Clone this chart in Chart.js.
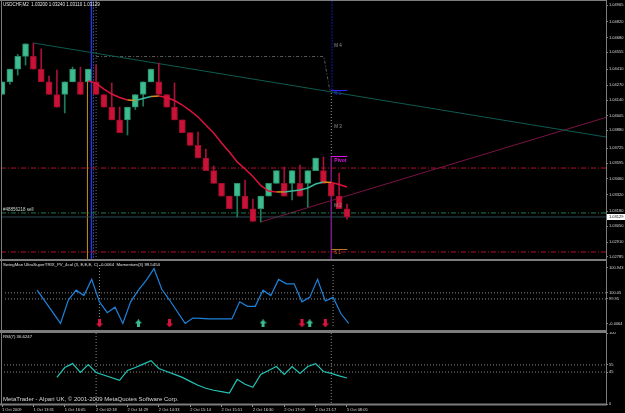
<!DOCTYPE html>
<html>
<head>
<meta charset="utf-8">
<script src="https://cdn.jsdelivr.net/npm/chart.js@4.4.1/dist/chart.umd.min.js"></script>
<style>
  html, body { margin: 0; padding: 0; background: #000; overflow: hidden; width: 625px; height: 413px; }
  canvas { position: absolute; left: 0; }
</style>
</head>
<body>
<canvas id="mainChart" width="625" height="260" style="top:0px"></canvas>
<canvas id="momChart" width="625" height="72" style="top:260px"></canvas>
<canvas id="rsiChart" width="625" height="81" style="top:332px"></canvas>
<script>
// USDCHF, M2 bars (index 0 = first visible bar)
const opens  = [1.04190,1.04300,1.04410,1.04520,1.04520,1.04410,1.04300,1.04190,1.04190,1.04300,
                1.04300,1.04300,1.04300,1.04190,1.04080,1.03970,1.03970,1.04080,1.04190,1.04300,
                1.04300,1.04190,1.04080,1.03970,1.03860,1.03750,1.03640,1.03530,1.03420,1.03310,
                1.03310,1.03310,1.03200,1.03200,1.03310,1.03420,1.03420,1.03420,1.03420,1.03420,
                1.03530,1.03530,1.03420,1.03310,1.03200];
const closes = [1.04300,1.04410,1.04520,1.04630,1.04410,1.04300,1.04190,1.04080,1.04300,1.04410,
                1.04190,1.04410,1.04190,1.04080,1.03970,1.03860,1.04080,1.04190,1.04300,1.04410,
                1.04190,1.04080,1.03970,1.03860,1.03750,1.03640,1.03530,1.03420,1.03310,1.03200,
                1.03420,1.03200,1.03090,1.03310,1.03420,1.03530,1.03310,1.03530,1.03310,1.03530,
                1.03640,1.03420,1.03310,1.03200,1.03129];
const highs  = [1.04300,1.04410,1.04537,1.04630,1.04636,1.04584,1.04350,1.04402,1.04300,1.04428,
                1.04428,1.04410,1.04445,1.04190,1.04290,1.04082,1.04080,1.04190,1.04300,1.04410,
                1.04463,1.04190,1.04290,1.03970,1.03860,1.03865,1.03718,1.03571,1.03420,1.03310,
                1.03420,1.03449,1.03285,1.03310,1.03420,1.03530,1.03562,1.03530,1.03579,1.03530,
                1.03640,1.03649,1.03420,1.03510,1.03240];
const lows   = [1.04190,1.04280,1.04358,1.04445,1.04410,1.04300,1.04190,1.04080,1.04030,1.04300,
                1.04190,1.04300,1.04190,1.04080,1.03970,1.03860,1.03839,1.04060,1.04090,1.04300,
                1.04190,1.04080,1.03970,1.03860,1.03750,1.03640,1.03530,1.03420,1.03310,1.03200,
                1.03129,1.03200,1.03090,1.03086,1.03310,1.03420,1.03310,1.03276,1.03310,1.03216,
                1.03530,1.03420,1.03310,1.03200,1.03110];
// colour-coded moving average
const maLine = [null,null,null,null,null,null,null,null,null,null,
                null,1.04307,1.04289,1.04237,1.04194,1.04164,1.04142,1.04138,1.04155,1.04173,
                1.04177,1.04164,1.04138,1.04099,1.04051,1.03995,1.03926,1.03857,1.03770,1.03692,
                1.03606,1.03545,1.03480,1.03402,1.03354,1.03346,1.03346,1.03354,1.03363,1.03380,
                1.03415,1.03432,1.03428,1.03410,1.03389];
// Momentum(3)
const momentum = [null,null,null,null,100.095,null,null,99.546,99.932,100.095,
                  100.006,100.273,99.902,99.724,99.813,99.546,99.902,100.095,100.258,100.451,
                  100.110,99.932,99.739,99.546,99.635,99.628,99.620,99.620,99.620,99.620,
                  99.902,99.828,99.828,100.095,100.006,100.273,100.199,100.199,99.902,99.976,
                  100.273,99.917,99.976,99.709,99.546];
// RSI(7)
const rsi = [null,null,null,null,null,null,null,37.5,51.4,56.9,
             44.4,55.6,44.4,null,null,33.3,47.2,51.4,56.2,61.1,
             50.0,45.8,41.7,37.5,31.9,26.4,22.2,19.4,17.4,15.3,
             34.7,27.8,23.6,41.7,47.2,52.8,41.7,52.8,43.1,52.8,
             56.9,45.8,43.1,39.6,36.6];
const upArrows = [17, 33, 39];
const downArrows = [12, 21, 38, 41];
const arrowLevel = 99.546;

const timeTickBars = [0, 4, 8, 12, 16, 20, 24, 28, 32, 36, 40, 44];
const timeLabels = ['1 Oct 2009', '1 Oct 13:31', '1 Oct 16:05', '2 Oct 02:18', '2 Oct 14:29', '2 Oct 14:33',
                    '2 Oct 15:14', '2 Oct 15:51', '2 Oct 16:30', '2 Oct 17:09', '2 Oct 21:17', '5 Oct 08:05'];
const priceTicks = [1.04965, 1.04820, 1.04680, 1.04555, 1.04410, 1.04270, 1.04140, 1.04005, 1.03880,
                    1.03725, 1.03595, 1.03460, 1.03320, 1.03180, 1.03050, 1.02910, 1.02785];
const momTicks = [100.466, 100.05, 99.95, 99.546];
const momTickLabels = ['100.943', '100.05', '99.95', '-0.0064'];
const rsiTicks = [100, 55, 45, 0];
const rsiLevels = [55, 45];
const momLevels = [100.05, 99.95];

// pivot levels of the new day
const pivotNames  = ['M 4', 'R 1', 'M 3', 'Pivot', 'M 2', 'S 1'];
const pivotLevels = [1.04645, 1.04229, 1.03943, 1.03653, 1.03259, 1.02852];
const pivotColors = ['#9a9a9a', '#2a2aff', '#9a9a9a', '#e010e0', '#9a9a9a', '#b8742a'];
const dayStartBar = 42;
const orderLevel = 1.03164;
const bidPrice = 1.03129;
const redLevels = [1.03553, 1.02826];
const trendTeal = [{x: 4, y: 1.04636}, {x: 77.2, y: 1.03820}];
const trendRed  = [{x: 33, y: 1.03086}, {x: 77.2, y: 1.03995}];
const greyPath  = [{x: 12, y: 1.04519}, {x: 41.05, y: 1.04519}, {x: 41.8, y: 1.04229}];

const X_MIN = -0.13, X_MAX = 77.04;
const PRICE_MIN = 1.02765, PRICE_MAX = 1.05000;
const MOM_MIN = 99.4866, MOM_MAX = 100.5105;

const GREEN = '#3dbd8f', RED = '#c81236';
const FONT = 'Liberation Sans';
Chart.defaults.font.family = FONT;
Chart.defaults.font.size = 4;

const bars = opens.map((o, i) => i);

function hline(y, color, dash, width) {
    return { type: 'line', data: [{x: X_MIN, y: y}, {x: X_MAX, y: y}], borderColor: color,
             borderDash: dash || [], borderWidth: width || 1, pointRadius: 0, order: 5 };
}
function vline(x, y0, y1, color, dash, width) {
    return { type: 'line', data: [{x: x, y: y0}, {x: x, y: y1}], borderColor: color,
             borderDash: dash || [], borderWidth: width || 1, pointRadius: 0, order: 5 };
}

function makeArrow(color, up) {
    const c = document.createElement('canvas');
    c.width = 7; c.height = 8;
    const g = c.getContext('2d');
    g.fillStyle = color;
    g.beginPath();
    if (up) {
        g.moveTo(3.5, 0); g.lineTo(7, 4); g.lineTo(5, 4); g.lineTo(5, 8); g.lineTo(2, 8); g.lineTo(2, 4); g.lineTo(0, 4);
    } else {
        g.moveTo(3.5, 8); g.lineTo(7, 4); g.lineTo(5, 4); g.lineTo(5, 0); g.lineTo(2, 0); g.lineTo(2, 4); g.lineTo(0, 4);
    }
    g.closePath();
    g.fill();
    return c;
}

function yAxisFit(s) { s.width = 19; s.paddingTop = 0; s.paddingBottom = 0; }

// ---------- main price panel ----------
const mainDecor = {
    id: 'mainDecor',
    afterDatasetsDraw(chart) {
        const { ctx, scales: { x, y } } = chart;
        ctx.save();
        ctx.fillStyle = '#7c7c7c';
        ctx.fillRect(0, 0, 607, 1);
        ctx.fillRect(1, 0, 1, 260);
        ctx.fillRect(606, 0, 1, 260);
        ctx.fillRect(0, 259, 607, 1);

        ctx.textBaseline = 'middle';
        ctx.font = '4.5px "' + FONT + '"';
        ctx.fillStyle = '#e6e6e6';
        ctx.fillText('USDCHF,M2  1.03200 1.03240 1.03110 1.03129', 3, 5);
        ctx.fillStyle = '#c8d8d0';
        ctx.fillText('#48856218 sell', 3, y.getPixelForValue(orderLevel) - 3);

        const px = x.getPixelForValue(dayStartBar);
        pivotNames.forEach((n, i) => {
            const py = y.getPixelForValue(pivotLevels[i]);
            if (n === 'R 1' || n === 'Pivot' || n === 'S 1') {
                ctx.fillStyle = pivotColors[i];
                ctx.fillRect(px, Math.round(py), 16, 1);
            }
            ctx.fillStyle = pivotColors[i];
            ctx.font = (n === 'Pivot' ? 'bold 5px "' : '4.5px "') + FONT + '"';
            ctx.fillText(n, px + 3, py + 4);
        });

        // current bid box on the price axis
        const by = Math.round(y.getPixelForValue(bidPrice));
        ctx.fillStyle = '#ffffff';
        ctx.fillRect(607, by - 3, 18, 6);
        ctx.fillStyle = '#000000';
        ctx.font = '4px "' + FONT + '"';
        ctx.fillText(bidPrice.toFixed(5), 609, by);
        ctx.restore();
    }
};

new Chart(document.getElementById('mainChart'), {
    type: 'bar',
    data: {
        datasets: [
            hline(redLevels[0], '#b01030', [5, 2, 1, 2]),
            hline(redLevels[1], '#b01030', [5, 2, 1, 2]),
            hline(orderLevel, '#1f7a4e', [5, 2, 1, 2]),
            hline(bidPrice, '#2e4a54'),
            { type: 'line', data: trendTeal, borderColor: '#0f5a52', borderWidth: 1, pointRadius: 0, order: 5 },
            { type: 'line', data: trendRed, borderColor: '#7a1444', borderWidth: 1, pointRadius: 0, order: 5 },
            { type: 'line', data: greyPath, borderColor: '#5a5a5a', borderDash: [3, 2, 1, 2], borderWidth: 1, pointRadius: 0, order: 5 },
            vline(10.9, maLine[11], PRICE_MIN, '#b8861e', [], 1),
            vline(11.4, PRICE_MAX, PRICE_MIN, '#2a3ad8', [], 1),
            vline(11.65, PRICE_MAX, PRICE_MIN, '#3040c0', [2, 1], 1),
            vline(12, PRICE_MAX, PRICE_MIN, '#707070', [1, 2], 1),
            vline(dayStartBar + 0.1, PRICE_MAX, pivotLevels[1], '#1414a8', [2, 1], 1),
            vline(dayStartBar, pivotLevels[1], pivotLevels[3], '#9a9a9a', [1, 2], 1),
            vline(dayStartBar, pivotLevels[3], PRICE_MIN, '#7a1a8a', [], 1),
            {
                type: 'bar', grouped: false, order: 3, barThickness: 1,
                data: bars.map(i => ({ x: i, y: [lows[i], highs[i]] })),
                backgroundColor: c => closes[c.dataIndex] >= opens[c.dataIndex] ? '#1f7a5a' : '#a8103a'
            },
            {
                type: 'bar', grouped: false, order: 2, barThickness: 6,
                data: bars.map(i => ({ x: i, y: [opens[i], closes[i]] })),
                backgroundColor: c => closes[c.dataIndex] >= opens[c.dataIndex] ? GREEN : RED,
                borderColor: c => closes[c.dataIndex] >= opens[c.dataIndex] ? '#2a8c68' : '#a00c2c',
                borderWidth: 1, borderSkipped: false
            },
            {
                type: 'line', order: 1, pointRadius: 0, borderWidth: 1.5,
                data: bars.map(i => ({ x: i, y: maLine[i] })),
                segment: {
                    borderColor: c => {
                        const d = c.p1.parsed.y - c.p0.parsed.y;
                        return Math.abs(d) < 0.00006 ? '#e08a1e' : (d > 0 ? '#3cb89a' : '#dc143c');
                    }
                }
            }
        ]
    },
    options: {
        responsive: false, animation: false, events: [],
        layout: { padding: { left: 1, right: 0, top: 1, bottom: 1 } },
        plugins: { legend: { display: false }, tooltip: { enabled: false } },
        scales: {
            x: { type: 'linear', min: X_MIN, max: X_MAX, offset: false, display: false },
            y: {
                type: 'linear', position: 'right', min: PRICE_MIN, max: PRICE_MAX,
                afterFit: yAxisFit,
                afterBuildTicks: s => { s.ticks = priceTicks.map(v => ({ value: v })); },
                ticks: { color: '#d8d8d8', padding: 1, callback: v => v.toFixed(5) },
                grid: { drawOnChartArea: false, tickLength: 2, color: '#808080' },
                border: { display: false }
            }
        }
    },
    plugins: [mainDecor]
});

// ---------- SwingMan TRIX / Momentum panel ----------
const momDecor = {
    id: 'momDecor',
    afterDatasetsDraw(chart) {
        const { ctx } = chart;
        ctx.save();
        ctx.fillStyle = '#7c7c7c';
        ctx.fillRect(0, 0, 607, 1);
        ctx.fillRect(1, 0, 1, 72);
        ctx.fillRect(606, 0, 1, 72);
        ctx.fillRect(0, 70, 607, 2);
        ctx.textBaseline = 'middle';
        ctx.font = '4.3px "' + FONT + '"';
        ctx.fillStyle = '#e0e0e0';
        ctx.fillText('SwingMan UltraSuperTRIX_PV_4col (3, E,E,E, C) -0.0064  Momentum(3) 99.5454', 3, 5);
        ctx.restore();
    }
};

new Chart(document.getElementById('momChart'), {
    type: 'line',
    data: {
        datasets: [
            hline(momLevels[0], '#8a8a8a', [1, 2]),
            hline(momLevels[1], '#8a8a8a', [1, 2]),
            vline(12, MOM_MAX, MOM_MIN, '#8a8a8a', [1, 2]),
            vline(dayStartBar, MOM_MAX, MOM_MIN, '#8a8a8a', [1, 2]),
            {
                data: bars.map(i => ({ x: i, y: momentum[i] })), spanGaps: true,
                borderColor: '#1e82dc', borderWidth: 1.2, pointRadius: 0, order: 2
            },
            {
                data: upArrows.map(i => ({ x: i, y: arrowLevel })), showLine: false,
                pointStyle: makeArrow('#3dbd8f', true), pointRadius: 4, order: 1
            },
            {
                data: downArrows.map(i => ({ x: i, y: arrowLevel })), showLine: false,
                pointStyle: makeArrow('#d81440', false), pointRadius: 4, order: 1
            }
        ]
    },
    options: {
        responsive: false, animation: false, events: [],
        layout: { padding: { left: 1, right: 0, top: 1, bottom: 2 } },
        plugins: { legend: { display: false }, tooltip: { enabled: false } },
        scales: {
            x: { type: 'linear', min: X_MIN, max: X_MAX, display: false },
            y: {
                type: 'linear', position: 'right', min: MOM_MIN, max: MOM_MAX,
                afterFit: yAxisFit,
                afterBuildTicks: s => { s.ticks = momTicks.map(v => ({ value: v })); },
                ticks: { color: '#d8d8d8', padding: 1, callback: (v, i) => momTickLabels[i] },
                grid: { drawOnChartArea: false, tickLength: 2, color: '#808080' },
                border: { display: false }
            }
        }
    },
    plugins: [momDecor]
});

// ---------- RSI panel ----------
const rsiDecor = {
    id: 'rsiDecor',
    afterDatasetsDraw(chart) {
        const { ctx } = chart;
        ctx.save();
        ctx.fillStyle = '#7c7c7c';
        ctx.fillRect(0, 0, 607, 1);
        ctx.fillRect(1, 0, 1, 73);
        ctx.fillRect(606, 0, 1, 73);
        ctx.fillRect(0, 71.5, 607, 2);
        ctx.textBaseline = 'middle';
        ctx.font = '4.3px "' + FONT + '"';
        ctx.fillStyle = '#e0e0e0';
        ctx.fillText('RSI(7) 36.6247', 3, 5);
        ctx.font = '6px "' + FONT + '"';
        ctx.fillStyle = '#d8d8d8';
        ctx.fillText('MetaTrader - Alpari UK, \u00a9 2001-2009 MetaQuotes Software Corp.', 3, 67);
        ctx.restore();
    }
};

new Chart(document.getElementById('rsiChart'), {
    type: 'line',
    data: {
        datasets: [
            hline(rsiLevels[0], '#8a8a8a', [1, 2]),
            hline(rsiLevels[1], '#8a8a8a', [1, 2]),
            vline(12, 100, 0, '#8a8a8a', [1, 2]),
            vline(dayStartBar, 100, 0, '#8a8a8a', [1, 2]),
            {
                data: bars.map(i => ({ x: i, y: rsi[i] })), spanGaps: true,
                borderColor: '#22c4b4', borderWidth: 1.2, pointRadius: 0, order: 1
            }
        ]
    },
    options: {
        responsive: false, animation: false, events: [],
        layout: { padding: { left: 1, right: 0, top: 1, bottom: 0 } },
        plugins: { legend: { display: false }, tooltip: { enabled: false } },
        scales: {
            x: {
                type: 'linear', min: X_MIN, max: X_MAX, position: 'bottom',
                afterFit: s => { s.height = 9; s.paddingLeft = 0; s.paddingRight = 0; },
                afterBuildTicks: s => { s.ticks = timeTickBars.map(v => ({ value: v })); },
                ticks: { color: '#d8d8d8', padding: 0, align: 'start', maxRotation: 0, autoSkip: false,
                         callback: (v, i) => timeLabels[i] },
                grid: { drawOnChartArea: false, tickLength: 3, color: '#909090' },
                border: { display: false }
            },
            y: {
                type: 'linear', position: 'right', min: 0, max: 100,
                afterFit: yAxisFit,
                afterBuildTicks: s => { s.ticks = rsiTicks.map(v => ({ value: v })); },
                ticks: { color: '#d8d8d8', padding: 1 },
                grid: { drawOnChartArea: false, tickLength: 2, color: '#808080' },
                border: { display: false }
            }
        }
    },
    plugins: [rsiDecor]
});
</script>
</body>
</html>
